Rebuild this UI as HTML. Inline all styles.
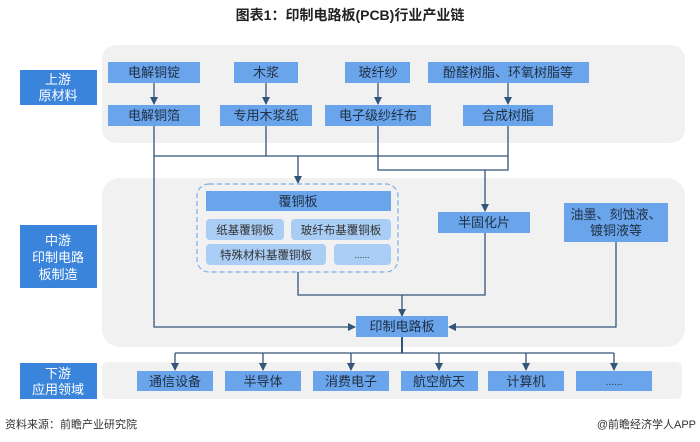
<!DOCTYPE html>
<html><head><meta charset="utf-8"><style>
html,body{margin:0;padding:0;background:#fff;}
svg{display:block;font-family:"Liberation Sans","Noto Sans CJK SC",sans-serif;}
</style></head><body>
<svg width="700" height="442" viewBox="0 0 700 442" xmlns="http://www.w3.org/2000/svg">
<defs>
<marker id="a" markerWidth="8" markerHeight="8" refX="7" refY="4" orient="auto" markerUnits="userSpaceOnUse"><path d="M0,0 L8,4 L0,8 Z" fill="#33557a"/></marker>
</defs>
<text x="350" y="20" text-anchor="middle" font-size="14" font-weight="bold" fill="#222">图表1：印制电路板(PCB)行业产业链</text>
<rect x="102" y="45" width="583" height="98" rx="14" fill="#f1f1f1"/>
<rect x="102" y="178" width="583" height="169" rx="18" fill="#f1f1f1"/>
<rect x="102" y="362" width="580" height="37" rx="6" fill="#f1f1f1"/>
<g fill="#3a84dc">
<rect x="20" y="70" width="77" height="35"/>
<rect x="20" y="225" width="77" height="63"/>
<rect x="20" y="363" width="77" height="36"/>
</g>
<g fill="#fff" font-size="13" text-anchor="middle">
<text x="58" y="84">上游</text><text x="58" y="100">原材料</text>
<text x="58" y="245">中游</text><text x="58" y="262">印制电路</text><text x="58" y="279">板制造</text>
<text x="58" y="378">下游</text><text x="58" y="394">应用领域</text>
</g>
<g stroke="#33557a" stroke-width="1.3" fill="none">
<line x1="154" y1="83" x2="154" y2="104" marker-end="url(#a)"/>
<line x1="266" y1="83" x2="266" y2="104" marker-end="url(#a)"/>
<line x1="378" y1="83" x2="378" y2="104" marker-end="url(#a)"/>
<line x1="508" y1="83" x2="508" y2="104" marker-end="url(#a)"/>
<polyline points="154,126 154,327 355,327" marker-end="url(#a)"/>
<polyline points="266,126 266,156"/>
<line x1="154" y1="156" x2="508" y2="156"/>
<line x1="298" y1="156" x2="298" y2="183" marker-end="url(#a)"/>
<polyline points="378,126 378,170 508,170 508,126"/>
<line x1="485" y1="170" x2="485" y2="211" marker-end="url(#a)"/>
<polyline points="298,272 298,295 485,295 485,233"/>
<line x1="402" y1="295" x2="402" y2="316" marker-end="url(#a)"/>
<polyline points="616,242 616,327 449,327" marker-end="url(#a)"/>
<line x1="402" y1="337" x2="402" y2="353" stroke-width="2"/>
<line x1="175" y1="353" x2="614" y2="353"/>
<line x1="175" y1="353" x2="175" y2="370" marker-end="url(#a)"/>
<line x1="263" y1="353" x2="263" y2="370" marker-end="url(#a)"/>
<line x1="351" y1="353" x2="351" y2="370" marker-end="url(#a)"/>
<line x1="439" y1="353" x2="439" y2="370" marker-end="url(#a)"/>
<line x1="526" y1="353" x2="526" y2="370" marker-end="url(#a)"/>
<line x1="614" y1="353" x2="614" y2="370" marker-end="url(#a)"/>
</g>
<rect x="197" y="184" width="201" height="88" rx="12" fill="none" stroke="#7aaee8" stroke-width="1.2" stroke-dasharray="5,3"/>
<g fill="#6aa4ea">
<rect x="108" y="62" width="92" height="21"/>
<rect x="234" y="62" width="64" height="21"/>
<rect x="345" y="62" width="65" height="21"/>
<rect x="428" y="62" width="161" height="21"/>
<rect x="108" y="105" width="92" height="21"/>
<rect x="220" y="105" width="92" height="21"/>
<rect x="325" y="105" width="106" height="21"/>
<rect x="463" y="105" width="90" height="21"/>
<rect x="206" y="191" width="185" height="20"/>
<rect x="438" y="212" width="92" height="21"/>
<rect x="564" y="203" width="104" height="39"/>
<rect x="356" y="316" width="92" height="21"/>
<rect x="137" y="371" width="76" height="20"/>
<rect x="225" y="371" width="76" height="20"/>
<rect x="313" y="371" width="76" height="20"/>
<rect x="401" y="371" width="77" height="20"/>
<rect x="488" y="371" width="76" height="20"/>
<rect x="576" y="371" width="76" height="20"/>
</g>
<g fill="#a9cdf4">
<rect x="206" y="219" width="78" height="21" rx="4"/>
<rect x="291" y="219" width="100" height="21" rx="4"/>
<rect x="206" y="244" width="120" height="21" rx="4"/>
<rect x="334" y="244" width="57" height="21" rx="4"/>
</g>
<g font-size="13" fill="#1f2f45" text-anchor="middle">
<text x="154" y="77">电解铜锭</text>
<text x="266" y="77">木浆</text>
<text x="378" y="77">玻纤纱</text>
<text x="508" y="77">酚醛树脂、环氧树脂等</text>
<text x="154" y="120">电解铜箔</text>
<text x="266" y="120">专用木浆纸</text>
<text x="378" y="120">电子级纱纤布</text>
<text x="508" y="120">合成树脂</text>
<text x="298" y="206">覆铜板</text>
<text x="484" y="227">半固化片</text>
<text x="616" y="219">油墨、刻蚀液、</text>
<text x="616" y="235">镀铜液等</text>
<text x="402" y="331">印制电路板</text>
<text x="175" y="386">通信设备</text>
<text x="263" y="386">半导体</text>
<text x="351" y="386">消费电子</text>
<text x="439" y="386">航空航天</text>
<text x="526" y="386">计算机</text>
<text x="614" y="385" font-size="10">......</text>
</g>
<g font-size="11.5" fill="#333" text-anchor="middle">
<text x="245" y="234">纸基覆铜板</text>
<text x="341" y="234">玻纤布基覆铜板</text>
<text x="266" y="259">特殊材料基覆铜板</text>
<text x="362" y="258" font-size="9">......</text>
</g>
<text x="5" y="428" font-size="11" fill="#333">资料来源：前瞻产业研究院</text>
<text x="696" y="428" font-size="11" fill="#333" text-anchor="end">@前瞻经济学人APP</text>
</svg>
</body></html>
